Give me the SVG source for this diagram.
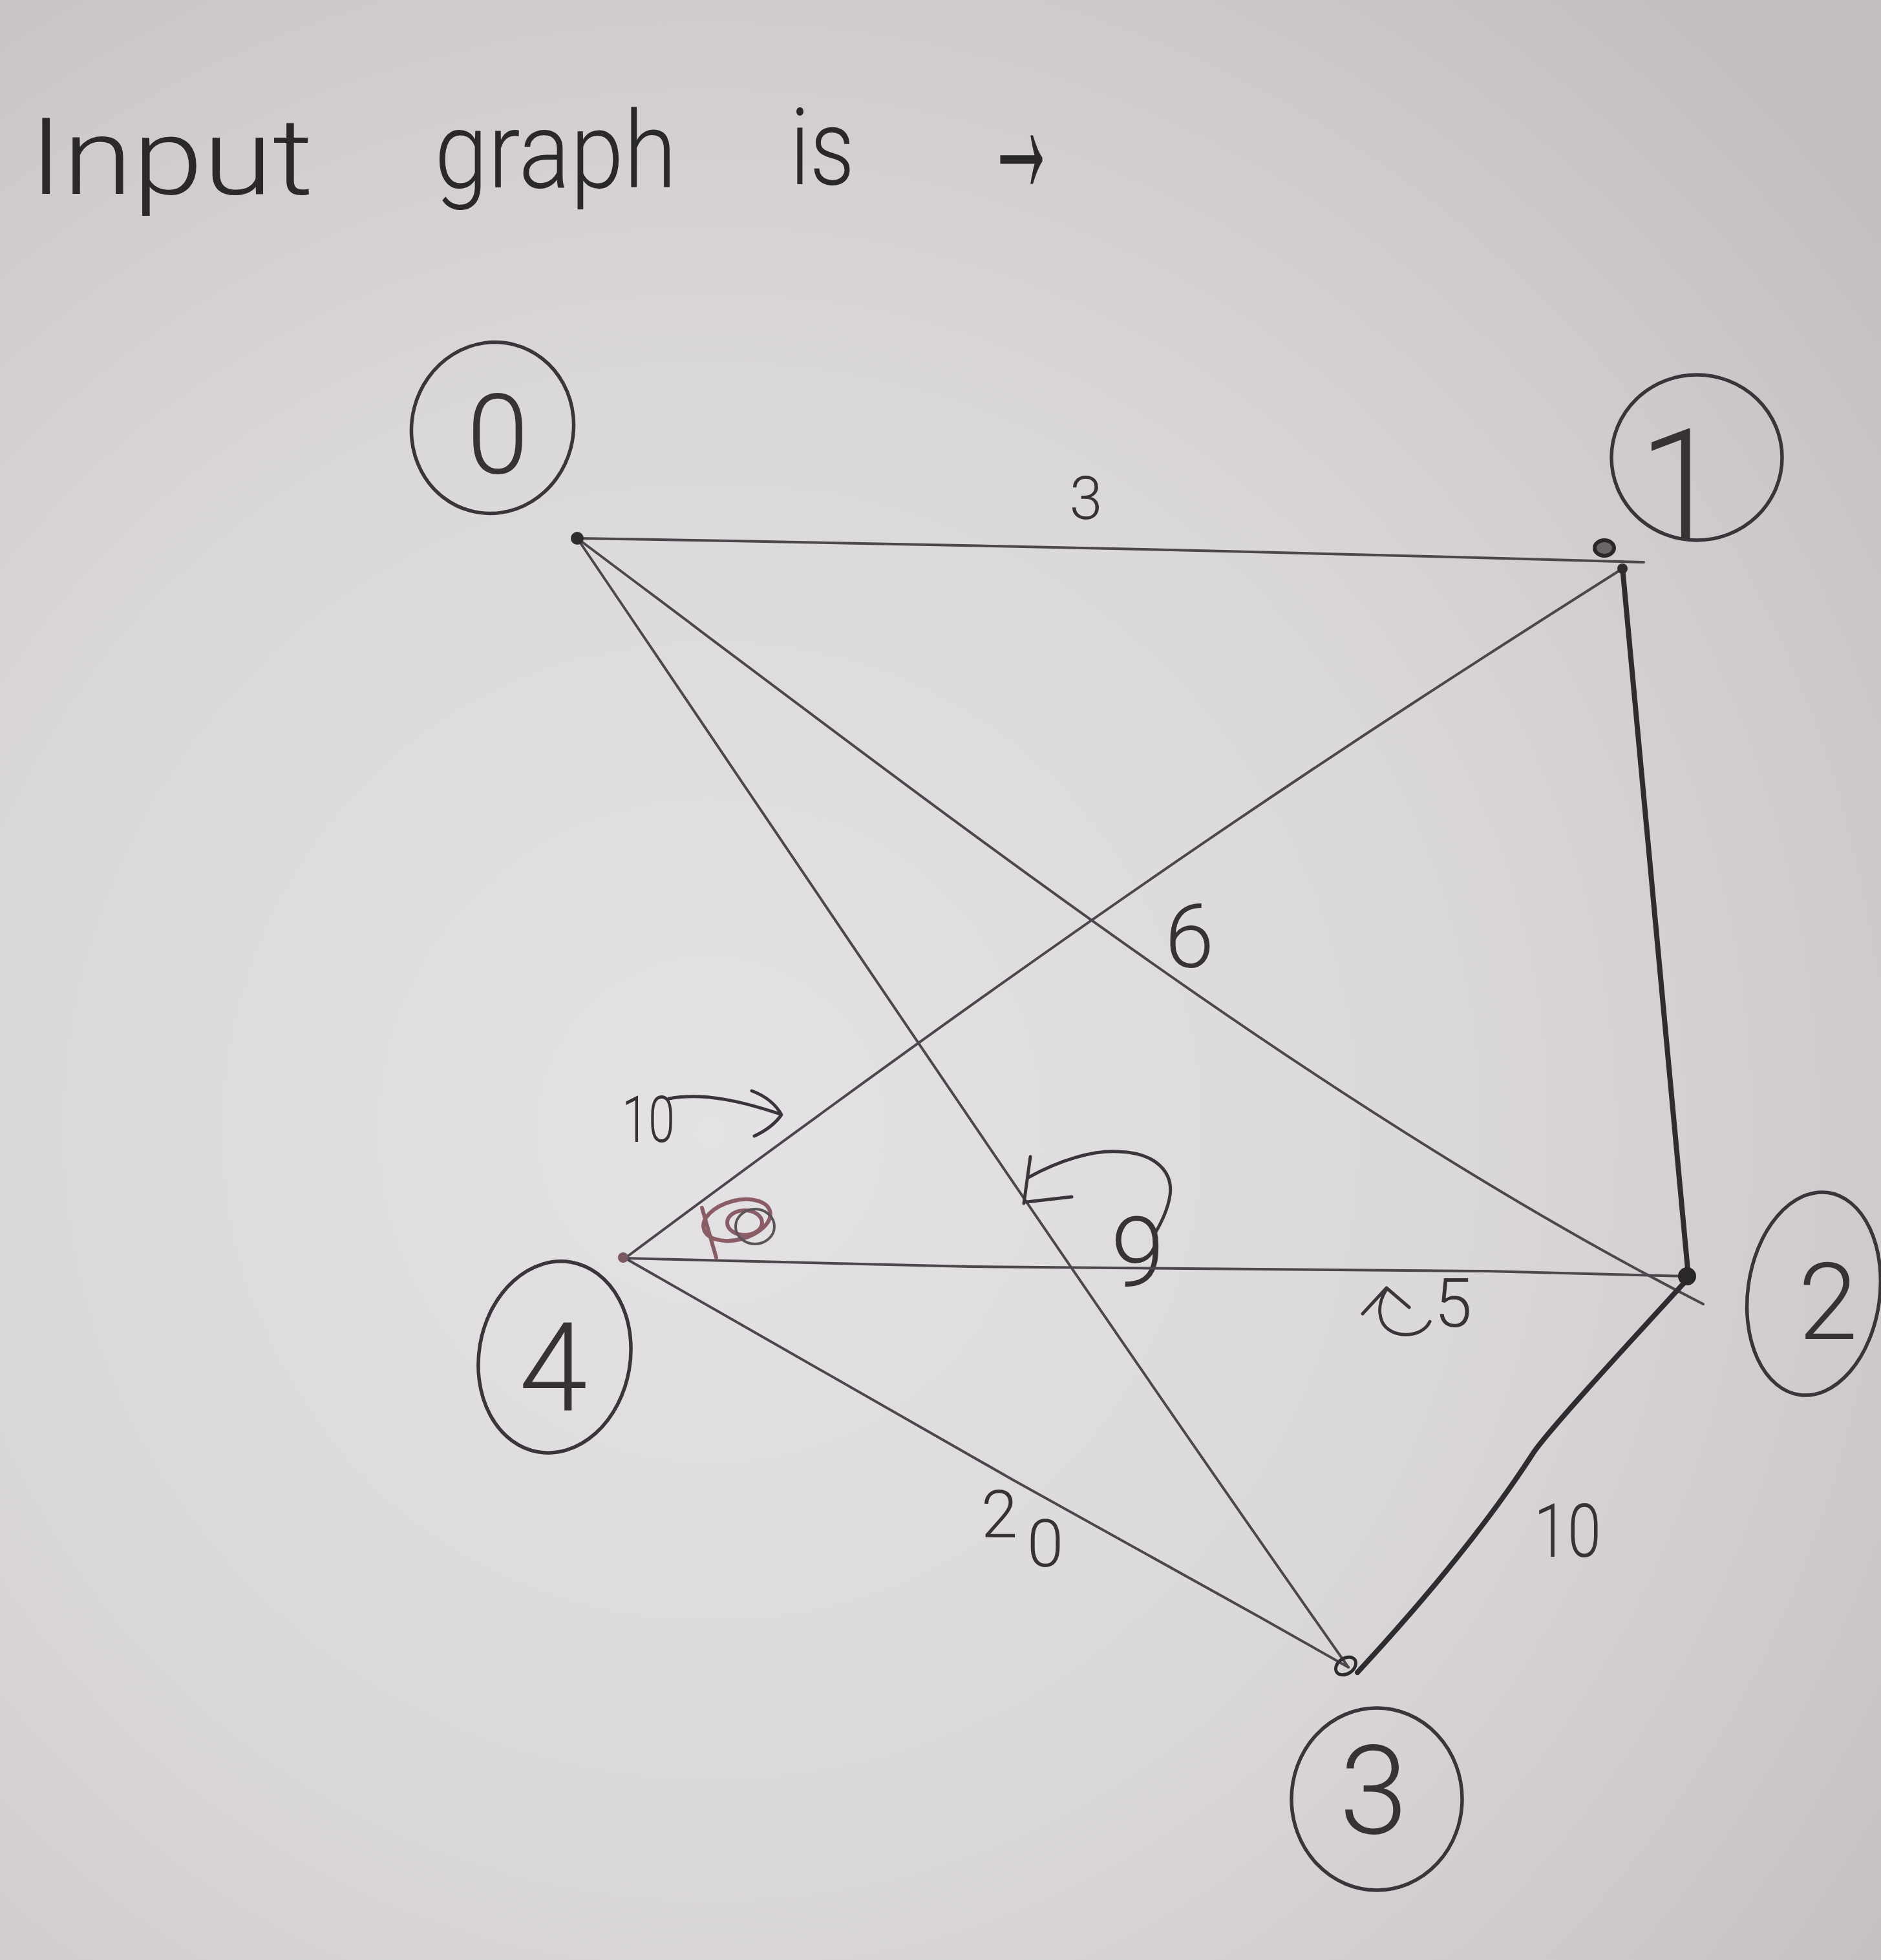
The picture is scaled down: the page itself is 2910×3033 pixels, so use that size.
<svg xmlns="http://www.w3.org/2000/svg" width="2910" height="3033" viewBox="0 0 2910 3033">
<defs>
<radialGradient id="paper" gradientUnits="userSpaceOnUse" cx="1100" cy="1750" r="2300">
<stop offset="0" stop-color="#e4e2e4"/>
<stop offset="0.5" stop-color="#dbd8da"/>
<stop offset="0.8" stop-color="#cecacc"/>
<stop offset="1" stop-color="#c3bec1"/>
</radialGradient>
<style>
.edge{fill:none;stroke:#4b474c;stroke-width:4;stroke-linecap:round;stroke-linejoin:round}
.edge.thick{stroke:#2f2c31;stroke-width:8}
.ring{fill:none;stroke:#39353a;stroke-width:5.5}
.mark{fill:none;stroke:#39353a;stroke-width:5;stroke-linecap:round;stroke-linejoin:round}
.red{fill:none;stroke:#8a5c66;stroke-width:6;stroke-linecap:round}
.lbl{font-family:Roboto,"Open Sans","Noto Sans","Liberation Sans",sans-serif;font-weight:300;fill:#363236;text-anchor:middle}
.title{font-family:Roboto,"Open Sans","Noto Sans","Liberation Sans",sans-serif;font-weight:300;fill:#2b282c;font-size:165px}
</style>
</defs>
<rect width="2910" height="3033" fill="url(#paper)"/>

<g id="title">
<text class="title" x="45" y="300" textLength="440" lengthAdjust="spacingAndGlyphs">Input</text>
<text class="title" x="672" y="290" textLength="375" lengthAdjust="spacingAndGlyphs">graph</text>
<text class="title" x="1222" y="285" textLength="100" lengthAdjust="spacingAndGlyphs">is</text>
<text class="title" x="1525" y="300" style="font-size:320px" textLength="110" lengthAdjust="spacingAndGlyphs">→</text>
</g>

<g id="connectors">
<g id="edge-0-1">
<path class="edge" d="M893,833 Q1700,846 2543,870"/>
<text class="lbl" x="1680" y="803" font-size="92">3</text>
</g>
<g id="edge-0-2">
<path class="edge" d="M893,833 C1450,1250 2050,1720 2635,2018"/>
<text class="lbl" x="1840" y="1497" font-size="138">6</text>
</g>
<g id="edge-0-3">
<path class="edge" d="M893,833 C1250,1360 1650,1960 2086,2580"/>
<text class="lbl" x="1760" y="1990" font-size="150">9</text>
<path class="mark" d="M1591,1822 C1640,1795 1690,1780 1730,1782 C1790,1784 1815,1815 1810,1850 C1806,1875 1795,1895 1786,1910"/>
<path class="mark" d="M1594,1790 L1584,1862 M1588,1860 L1658,1852"/>
</g>
<g id="edge-1-2">
<path class="edge thick" d="M2510,878 C2535,1150 2575,1550 2612,1975"/>
</g>
<g id="edge-1-4">
<path class="edge" d="M2510,880 C2100,1140 1700,1400 967,1947"/>
<text class="lbl" x="1003" y="1767" font-size="100" textLength="82" lengthAdjust="spacingAndGlyphs">10</text>
<path class="mark" d="M1035,1700 C1090,1690 1150,1705 1207,1724 M1163,1688 Q1195,1700 1209,1725 Q1195,1745 1167,1758"/>
</g>
<g id="edge-2-3">
<path class="edge thick" d="M2612,1978 C2500,2100 2390,2220 2371,2250 C2300,2360 2200,2480 2100,2588"/>
<text class="lbl" x="2425" y="2409" font-size="115" textLength="104" lengthAdjust="spacingAndGlyphs">10</text>
</g>
<g id="edge-2-4">
<path class="edge" d="M967,1947 L1500,1960 L2300,1967 L2612,1975"/>
<text class="lbl" x="2248" y="2053" font-size="105">5</text>
<path class="mark" stroke-width="7" d="M2212,2045 C2200,2072 2150,2072 2138,2045 C2130,2025 2138,2006 2145,1995 M2108,2033 L2145,1993 L2180,2023"/>
</g>
<g id="edge-3-4">
<path class="edge" d="M967,1947 L1210,2086 L1567,2290 L1950,2503 L2086,2580"/>
<text class="lbl" x="1546" y="2379" font-size="102">2<tspan x="1617" y="2424">0</tspan></text>
</g>
<g id="scribble">
<ellipse class="red" cx="1140" cy="1888" rx="53" ry="30" transform="rotate(-15 1140 1888)"/>
<ellipse class="red" cx="1152" cy="1892" rx="27" ry="19"/>
<ellipse cx="1168" cy="1898" rx="30" ry="27" fill="none" stroke="#5a5358" stroke-width="4"/>
<path class="red" d="M1086,1869 L1108,1946"/>
</g>
</g>

<g id="node-0">
<ellipse class="ring" cx="762" cy="662" rx="125" ry="133" transform="rotate(15 762 662)"/>
<text class="lbl" x="770" y="732" font-size="173">0</text>
<circle cx="893" cy="833" r="10" fill="#2f2c30"/>
</g>
<g id="node-1">
<ellipse class="ring" cx="2625" cy="708" rx="132" ry="128"/>
<text class="lbl" x="2600" y="833" font-size="237">1</text>
<ellipse cx="2482" cy="848" rx="15" ry="12" fill="#6a6568" stroke="#2a272a" stroke-width="6"/>
<circle cx="2510" cy="880" r="8" fill="#2f2c30"/>
</g>
<g id="node-2">
<ellipse class="ring" cx="2806" cy="2002" rx="102" ry="158" transform="rotate(8 2806 2002)"/>
<text class="lbl" x="2828" y="2072" font-size="166">2</text>
<circle cx="2610" cy="1975" r="14" fill="#2a272a"/>
</g>
<g id="node-3">
<ellipse class="ring" cx="2130" cy="2784" rx="132" ry="141"/>
<text class="lbl" x="2125" y="2837" font-size="191">3</text>
<ellipse cx="2082" cy="2578" rx="17" ry="12" fill="none" stroke="#2f2c30" stroke-width="5" transform="rotate(-35 2082 2578)"/>
</g>
<g id="node-4">
<ellipse class="ring" cx="858" cy="2100" rx="117" ry="149" transform="rotate(10 858 2100)"/>
<text class="lbl" x="856" y="2182" font-size="191">4</text>
<circle cx="964" cy="1946" r="8" fill="#7a5a60"/>
</g>
</svg>
